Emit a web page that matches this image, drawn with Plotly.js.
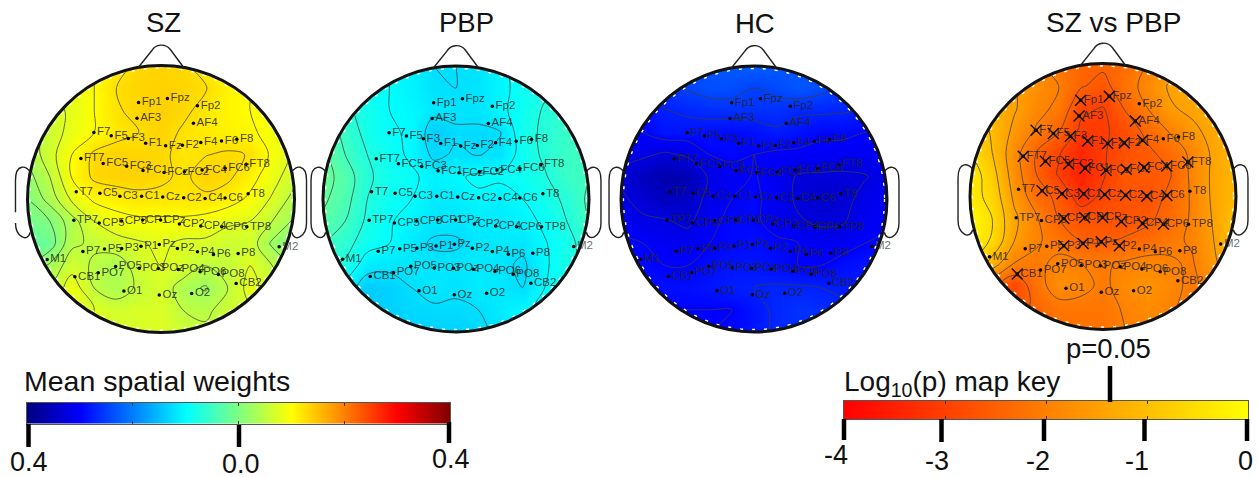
<!DOCTYPE html>
<html><head><meta charset="utf-8">
<script src="https://cdn.plot.ly/plotly-3.0.1.min.js"></script>
<style>html,body{margin:0;padding:0;background:#fff}#g{width:1259px;height:477px}</style>
</head><body><div id="g"></div>
<script>
// ---- electrodes (normalised head coordinates) ----
const elecNames=["Fp1","Fpz","Fp2","AF3","AF4","F7","F5","F3","F1","Fz","F2","F4","F6","F8","FT7","FC5","FC3","FC1","FCz","FC2","FC4","FC6","FT8","T7","C5","C3","C1","Cz","C2","C4","C6","T8","TP7","CP5","CP3","CP1","CPz","CP2","CP4","CP6","TP8","P7","P5","P3","P1","Pz","P2","P4","P6","P8","M1","M2","PO7","PO5","PO3","POz","PO4","PO6","PO8","CB1","O1","Oz","O2","CB2"];
const elecX=[-.168,.048,.273,-.18,.243,-.503,-.373,-.245,-.115,.035,.16,.298,.453,.568,-.6,-.433,-.258,-.135,.023,.175,.308,.48,.638,-.635,-.458,-.308,-.145,.013,.17,.33,.48,.653,-.653,-.463,-.295,-.138,-.003,.138,.298,.455,.643,-.585,-.423,-.295,-.15,-.013,.123,.273,.393,.578,-.853,.885,-.47,-.34,-.163,-.02,.13,.293,.43,-.645,-.278,-.013,.23,.563];
const elecY=[.723,.753,.698,.605,.568,.498,.473,.453,.418,.398,.403,.423,.435,.448,.303,.265,.245,.213,.198,.205,.218,.23,.26,.055,.043,.02,.02,.015,.01,.003,.008,.04,-.16,-.18,-.165,-.158,-.158,-.188,-.203,-.208,-.208,-.393,-.375,-.37,-.353,-.34,-.37,-.395,-.415,-.408,-.453,-.358,-.553,-.505,-.518,-.52,-.528,-.545,-.565,-.583,-.69,-.72,-.708,-.633];
const significant=["Fp1","Fpz","AF3","AF4","F7","F5","F3","F1","Fz","F2","F4","FT7","FC5","FC3","FC1","FCz","FC2","FC4","FC6","FT8","C5","C3","C1","Cz","C2","C4","C6","CP3","CP1","CPz","CP2","CP4","CP6","P3","P1","Pz","P2","CB1"];

// ---- map grids (top row first) ----
const gridPos=[-1,-.8333,-.6667,-.5,-.3333,-.1667,0,.1667,.3333,.5,.6667,.8333,1];
const gridPosDown=[1,.8333,.6667,.5,.3333,.1667,0,-.1667,-.3333,-.5,-.6667,-.8333,-1];
const zSZ=[
[.09,.09,.09,.10,.115,.13,.133,.13,.11,.10,.09,.09,.09],
[.08,.08,.085,.10,.125,.133,.136,.133,.127,.108,.10,.09,.085],
[.06,.065,.08,.10,.122,.133,.136,.13,.118,.108,.10,.09,.08],
[.04,.06,.085,.10,.118,.125,.134,.122,.115,.11,.105,.09,.07],
[.03,.065,.10,.13,.134,.132,.13,.118,.124,.128,.124,.095,.07],
[.015,.05,.102,.13,.135,.135,.13,.12,.135,.13,.11,.085,.06],
[.0,.035,.08,.105,.112,.118,.118,.118,.12,.112,.095,.072,.04],
[-.01,.0,.04,.075,.09,.095,.095,.095,.09,.08,.075,.05,.02],
[-.03,-.015,.045,.055,.065,.072,.08,.07,.07,.06,.065,.02,.0],
[.0,.03,.065,.045,.035,.062,.075,.07,.05,.055,.075,.05,.02],
[.03,.05,.09,.05,.035,.055,.068,.035,.022,.05,.085,.06,.04],
[.05,.06,.08,.075,.065,.07,.072,.05,.045,.06,.07,.06,.05],
[.06,.07,.075,.075,.07,.07,.075,.06,.055,.06,.065,.06,.05]];
const zPBP=[
[-.09,-.09,-.09,-.10,-.11,-.125,-.125,-.12,-.105,-.09,-.08,-.07,-.07],
[-.07,-.08,-.09,-.10,-.11,-.122,-.125,-.12,-.108,-.09,-.08,-.07,-.06],
[-.06,-.07,-.085,-.10,-.105,-.118,-.12,-.12,-.105,-.09,-.072,-.065,-.055],
[-.04,-.055,-.085,-.098,-.102,-.14,-.128,-.128,-.126,-.085,-.07,-.055,-.05],
[-.02,-.05,-.075,-.09,-.105,-.13,-.122,-.126,-.12,-.09,-.07,-.055,-.05],
[-.015,-.035,-.07,-.088,-.095,-.11,-.104,-.095,-.095,-.09,-.078,-.055,-.05],
[-.02,-.04,-.075,-.09,-.10,-.115,-.115,-.105,-.112,-.10,-.085,-.07,-.045],
[-.03,-.05,-.08,-.098,-.108,-.118,-.118,-.115,-.115,-.11,-.095,-.075,-.05],
[-.05,-.065,-.09,-.10,-.118,-.128,-.128,-.118,-.115,-.118,-.102,-.085,-.06],
[-.07,-.08,-.115,-.12,-.118,-.118,-.118,-.115,-.118,-.13,-.105,-.08,-.07],
[-.09,-.11,-.14,-.135,-.125,-.118,-.122,-.115,-.118,-.125,-.10,-.085,-.08],
[-.1,-.12,-.14,-.135,-.13,-.128,-.128,-.125,-.115,-.105,-.095,-.09,-.09],
[-.1,-.12,-.13,-.135,-.135,-.135,-.135,-.13,-.12,-.11,-.1,-.095,-.09]];
const zHC=[
[-.26,-.25,-.25,-.24,-.235,-.23,-.225,-.23,-.235,-.24,-.24,-.25,-.26],
[-.28,-.27,-.26,-.248,-.238,-.24,-.25,-.243,-.232,-.242,-.255,-.27,-.28],
[-.30,-.29,-.276,-.27,-.265,-.262,-.262,-.262,-.27,-.27,-.272,-.277,-.29],
[-.31,-.30,-.285,-.287,-.29,-.295,-.29,-.28,-.288,-.297,-.295,-.30,-.30],
[-.32,-.32,-.33,-.32,-.30,-.295,-.30,-.305,-.305,-.305,-.31,-.31,-.31],
[-.33,-.35,-.365,-.36,-.32,-.31,-.298,-.31,-.328,-.33,-.33,-.327,-.315],
[-.32,-.335,-.35,-.345,-.315,-.30,-.295,-.31,-.33,-.34,-.335,-.315,-.31],
[-.31,-.32,-.322,-.332,-.305,-.295,-.295,-.31,-.322,-.33,-.328,-.31,-.305],
[-.295,-.30,-.31,-.31,-.30,-.295,-.29,-.295,-.30,-.31,-.31,-.30,-.295],
[-.29,-.295,-.30,-.30,-.29,-.285,-.285,-.29,-.30,-.30,-.29,-.285,-.285],
[-.29,-.29,-.29,-.29,-.285,-.278,-.275,-.272,-.272,-.275,-.28,-.28,-.28],
[-.30,-.30,-.30,-.30,-.30,-.30,-.285,-.27,-.262,-.265,-.27,-.28,-.29],
[-.30,-.30,-.30,-.30,-.30,-.295,-.285,-.27,-.265,-.265,-.27,-.28,-.29]];
const zLog=[
[-1.4,-1.6,-1.8,-2.0,-2.2,-2.4,-2.4,-2.3,-2.0,-1.8,-1.5,-1.3,-1.2],
[-1.1,-1.3,-1.5,-1.75,-2.0,-2.45,-2.65,-2.2,-1.85,-1.45,-1.3,-1.2,-1.1],
[-.9,-1.15,-1.45,-1.85,-2.1,-2.9,-3.02,-2.45,-2.0,-1.55,-1.4,-1.2,-1.0],
[-.7,-1.05,-1.6,-2.05,-2.45,-3.08,-3.08,-2.8,-2.35,-1.95,-1.6,-1.35,-1.1],
[-.5,-1.0,-1.8,-2.5,-2.95,-3.4,-3.05,-2.75,-2.6,-2.3,-1.9,-1.4,-1.1],
[-.2,-.8,-1.75,-2.5,-3.05,-3.5,-3.05,-2.6,-2.6,-2.55,-1.9,-1.4,-1.1],
[-.3,-.65,-1.6,-2.3,-2.6,-3.25,-2.9,-2.7,-2.75,-2.4,-1.95,-1.4,-1.1],
[-.05,-.5,-1.4,-1.95,-2.5,-2.7,-2.7,-2.7,-2.6,-2.3,-1.95,-1.45,-.9],
[-.2,-.55,-1.5,-1.95,-2.15,-2.5,-2.55,-2.45,-2.3,-2.1,-1.95,-1.5,-.9],
[-.5,-1.2,-2.0,-2.1,-1.9,-2.0,-2.05,-1.95,-1.85,-1.95,-2.05,-1.6,-1.0],
[-1.5,-2.3,-2.9,-2.2,-1.75,-1.85,-2.1,-1.8,-1.7,-1.85,-2.1,-1.8,-1.2],
[-1.6,-2.2,-2.7,-2.4,-2.15,-2.15,-2.15,-1.95,-1.8,-1.95,-2.1,-1.9,-1.4],
[-1.6,-2,-2.3,-2.3,-2.2,-2.2,-2.2,-2.0,-1.9,-2.0,-2.1,-1.9,-1.5]];

// ---- colour keys ----
const weightStops=[-.4,-.3,-.2,-.1,0,.1,.2,.3,.4];
const weightKeyMarks=[-.2,0,.2];
const logStops=[-4,-3,-2,-1,0];
const logKeyMarks=[-3,-2,-1];
const titles=["SZ","PBP","HC","SZ vs PBP"];

// ---- styling ----
const W=1259,H=477;
const jet=[[0,'#00007f'],[.125,'#0000ff'],[.375,'#00ffff'],[.5,'#80ff80'],[.625,'#ffff00'],[.875,'#ff0000'],[1,'#7f0000']];
const redYellow=[[0,'#ff0000'],[1,'#ffff00']];
const heads=[
 {cx:161,cy:199,r:133.5,z:zSZ,cs:jet,zmin:-.4,zmax:.4,start:-.025,end:.125,size:.025,gap:true},
 {cx:456,cy:199,r:133,z:zPBP,cs:jet,zmin:-.4,zmax:.4,start:-.125,end:-.025,size:.025},
 {cx:754,cy:199,r:133,z:zHC,cs:jet,zmin:-.4,zmax:.4,start:-.325,end:-.225,size:.025},
 {cx:1103,cy:196.5,r:133,z:zLog,cs:redYellow,zmin:-4,zmax:0,start:-3,end:-.5,size:.5}];
const XR=[-1.12,1.12],YR=[-1.05,1.2];
const px=v=>v/W, py=v=>1-v/H;
const layout={width:W,height:H,margin:{l:0,r:0,t:0,b:0},paper_bgcolor:'#fff',plot_bgcolor:'rgba(0,0,0,0)',showlegend:false,shapes:[],annotations:[],font:{family:'"Liberation Sans",Arial,sans-serif',color:'#111'}};
const data=[];
const ink='rgba(35,35,25,0.85)';
const labelColors=elecNames.map(n=>n==='M2'?'rgba(90,90,90,0.9)':ink);

// mask: white outside the head circle, keyhole polygon (circle wound opposite to the square)
const mx=[-1.03,-1.03,1.03,1.03,-1.03,-1.03],my=[0,1.03,1.03,-1.03,-1.03,0];
for(let a=-180;a<=180;a+=3){mx.push(Math.cos(a*Math.PI/180));my.push(Math.sin(a*Math.PI/180));}
mx.push(-1.03);my.push(0);

heads.forEach((h,i)=>{
  const s=i?String(i+1):'', xa='x'+s, ya='y'+s;
  layout['xaxis'+s]={domain:[px(h.cx+XR[0]*h.r),px(h.cx+XR[1]*h.r)],range:XR,visible:false,fixedrange:true,anchor:ya};
  layout['yaxis'+s]={domain:[py(h.cy-YR[0]*h.r),py(h.cy-YR[1]*h.r)],range:YR,visible:false,fixedrange:true,anchor:xa};
  data.push({type:'contour',xaxis:xa,yaxis:ya,x:gridPos,y:gridPosDown.slice().reverse(),z:h.z.slice().reverse(),
    colorscale:h.cs,zmin:h.zmin,zmax:h.zmax,showscale:false,autocontour:false,zsmooth:'best',
    contours:{start:h.start,end:h.end,size:h.size,coloring:'heatmap',showlines:true},
    line:{color:'rgba(60,60,60,0.75)',width:1,smoothing:1},hoverinfo:'skip'});
  data.push({type:'scatter',mode:'lines',xaxis:xa,yaxis:ya,x:mx,y:my,fill:'toself',fillcolor:'#fff',line:{width:0},hoverinfo:'skip'});
  data.push({type:'scatter',mode:'markers+text',xaxis:xa,yaxis:ya,x:elecX,y:elecY,text:elecNames,textposition:'middle right',cliponaxis:false,
    marker:{size:3.5,color:'#000'},textfont:{size:11.5,color:labelColors,family:'"Liberation Sans",Arial,sans-serif'},hoverinfo:'text'});
  if(i===3){
    const idx=elecNames.map((n,k)=>significant.includes(n)?k:-1).filter(k=>k>=0);
    data.push({type:'scatter',mode:'markers',xaxis:xa,yaxis:ya,x:idx.map(k=>elecX[k]),y:idx.map(k=>elecY[k]),
      marker:{symbol:'x-thin',size:11,color:'#111',line:{width:1.5,color:'#111'}},hoverinfo:'skip'});
  }
  const sh=(path,w)=>layout.shapes.push({type:'path',xref:xa,yref:ya,path,line:{color:'#222',width:w},layer:'above'});
  layout.shapes.push({type:'circle',xref:xa,yref:ya,x0:-.982,x1:.982,y0:-.982,y1:.982,line:{color:'#fff',width:1.5,dash:'3px,9px'},layer:'above'});
  layout.shapes.push({type:'circle',xref:xa,yref:ya,x0:-1,x1:1,y0:-1,y1:1,line:{color:'#111',width:3},layer:'above'});
  sh('M -.17,.985 L -.07,1.11 C -.04,1.16 .03,1.17 .07,1.12 L .17,.985',1.4);
  const leftEar=h.gap?'M -.98,.2 C -1.0,.25 -1.09,.27 -1.09,.14 L -1.09,-.1 M -1.09,-.18 C -1.09,-.28 -1.0,-.33 -.98,-.25':'M -.98,.2 C -1.0,.25 -1.09,.27 -1.09,.14 L -1.09,-.18 C -1.09,-.28 -1.0,-.33 -.98,-.25';
  sh(leftEar,1.4);
  sh('M .98,.2 C 1.0,.25 1.09,.27 1.09,.14 L 1.09,-.18 C 1.09,-.28 1.0,-.33 .98,-.25',1.4);
});

// colour keys
function key(id,stops,marks,cs,x0,x1,y0,y1){
  layout['xaxis'+id]={domain:[px(x0),px(x1)],range:[stops[0],stops[stops.length-1]],anchor:'y'+id,showgrid:false,zeroline:false,showticklabels:false,fixedrange:true,
    showline:true,mirror:'allticks',linecolor:'#555',linewidth:1,ticks:'inside',ticklen:3,tickcolor:'#333',tickmode:'array',tickvals:marks};
  layout['yaxis'+id]={domain:[py(y1),py(y0)],range:[0,1],anchor:'x'+id,showgrid:false,zeroline:false,showticklabels:false,fixedrange:true,showline:true,mirror:true,linecolor:'#555',linewidth:1,ticks:''};
  data.push({type:'heatmap',xaxis:'x'+id,yaxis:'y'+id,x:stops,y:[0,1],z:[stops,stops],colorscale:cs,zmin:stops[0],zmax:stops[stops.length-1],zsmooth:'best',showscale:false,hoverinfo:'skip'});
}
key(5,weightStops,weightKeyMarks,jet,27,450,402.5,424);
key(6,logStops,logKeyMarks,redYellow,844,1248,401,419);

const bars=[[28.5,424,447],[239,425,447],[449,422,443],[844,419,440],[941.5,419,442],[1044,419,441],[1144.5,419,441],[1247,419,441],[1110,366,402]];
bars.forEach(b=>layout.shapes.push({type:'line',xref:'paper',yref:'paper',x0:px(b[0]),x1:px(b[0]),y0:py(b[1]),y1:py(b[2]),line:{color:'#000',width:4.5}}));

const note=(t,x,y,size,anchor)=>layout.annotations.push({text:t,xref:'paper',yref:'paper',x:px(x),y:py(y),xanchor:anchor||'center',yanchor:'middle',showarrow:false,font:{size:size,color:'#111'}});
note(titles[0],163,23,27.5);note(titles[1],466.7,23,27.5);note(titles[2],755,24,27.5);note(titles[3],1113,23,28);
note('Mean spatial weights',22,381,28.5,'left');
note('Log<sub>10</sub>(p) map key',842,383,28,'left');
note('p=0.05',1108,348,27.5);
note('0.4',29,462,27);note('0.0',241,464,27);note('0.4',451,459,27);
note('-4',836,455,27);note('-3',937,461,27);note('-2',1038,461,27);note('-1',1137,461,27);note('0',1245,461,27);

Plotly.newPlot('g',data,layout,{displayModeBar:false,staticPlot:true});
</script></body></html>
